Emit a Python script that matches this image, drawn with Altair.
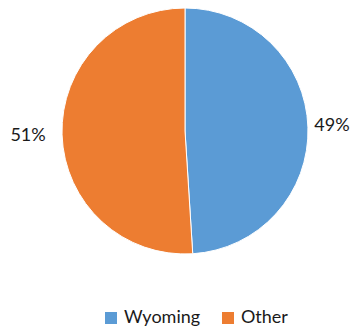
import altair as alt
import pandas as pd

categories = ["Wyoming", "Other"]
values = [49, 51]
labels = ["49%", "51%"]
colors = ["#5B9BD5", "#ED7D31"]

df = pd.DataFrame({
    "category": categories,
    "value": values,
    "label": labels,
    "order": list(range(len(categories))),
})

cx, cy = 177, 123

base = alt.Chart(df).encode(
    theta=alt.Theta("value:Q", stack=True),
    order=alt.Order("order:Q"),
    x=alt.value(cx),
    y=alt.value(cy),
)

pie = base.mark_arc(radius=123, stroke="white", strokeWidth=1).encode(
    color=alt.Color(
        "category:N",
        scale=alt.Scale(domain=categories, range=colors),
        sort=categories,
        legend=alt.Legend(
            title=None,
            orient="none",
            direction="horizontal",
            legendX=94,
            legendY=301,
            symbolType="square",
            symbolSize=144,
            symbolStrokeWidth=0,
            labelFont="Lato",
            labelFontSize=18,
            labelColor="#1a1a1a",
            labelOffset=4,
            columnPadding=18,
        ),
    )
)

text_right = base.mark_text(radius=147, font="Lato", fontSize=18, color="#1a1a1a").encode(
    text="label:N",
    opacity=alt.condition(alt.datum.category == "Wyoming", alt.value(1), alt.value(0)),
)
text_left = base.mark_text(radius=157, font="Lato", fontSize=18, color="#1a1a1a").encode(
    text="label:N",
    opacity=alt.condition(alt.datum.category == "Other", alt.value(1), alt.value(0)),
)

chart = (pie + text_right + text_left).properties(
    width=344,
    height=320,
    autosize=alt.AutoSizeParams(type="none"),
    padding=0,
).configure_view(stroke=None)

chart.save("out.html", embed_options={"renderer": "svg", "actions": False})
